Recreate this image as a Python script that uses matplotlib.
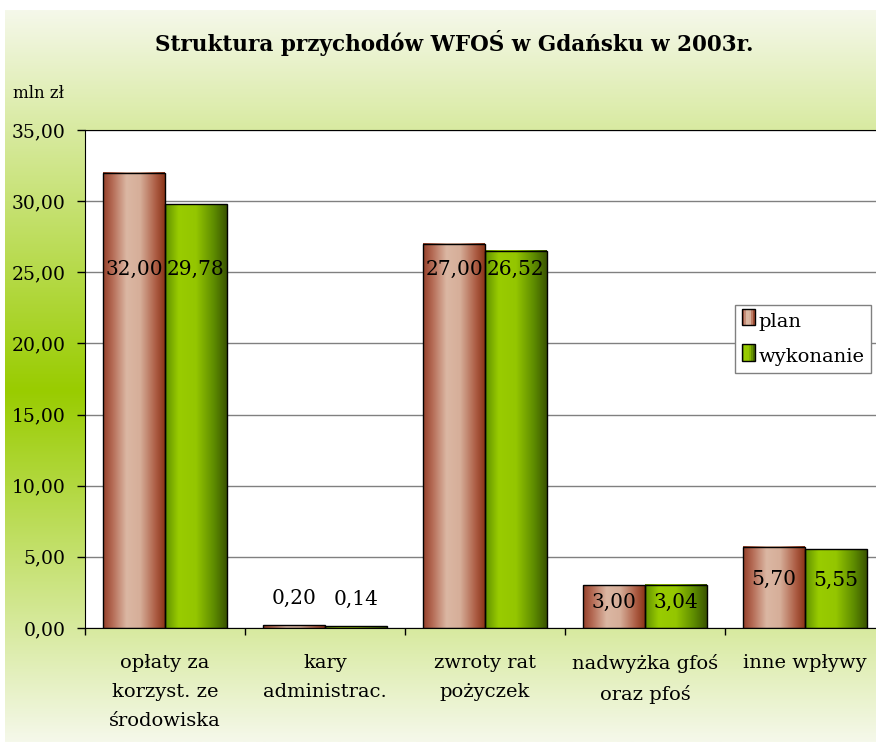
import matplotlib.pyplot as plt
import numpy as np
from matplotlib.colors import LinearSegmentedColormap, to_rgb
from matplotlib.patches import Rectangle
from matplotlib.legend_handler import HandlerBase

# dane
categories = ['opłaty za\nkorzyst. ze\nśrodowiska', 'kary\nadministrac.', 'zwroty rat\npożyczek',
              'nadwyżka gfoś\noraz pfoś', 'inne wpływy']
plan = [32.00, 0.20, 27.00, 3.00, 5.70]
wykonanie = [29.78, 0.14, 26.52, 3.04, 5.55]
series = ['plan', 'wykonanie']
yticks = [0, 5, 10, 15, 20, 25, 30, 35]

plt.rcParams['font.family'] = ['DejaVu Serif']

plan_cmap = LinearSegmentedColormap.from_list('plan', [(0, '#94402a'), (0.15, '#b46a54'), (0.38, '#dbb7a3'),
                                                        (0.6, '#d6ae99'), (0.85, '#ad5e45'), (1, '#8a3418')])
wyk_cmap = LinearSegmentedColormap.from_list('wyk', [(0, '#5f8f00'), (0.22, '#99cc00'), (0.5, '#94c600'),
                                                      (0.8, '#5c8a00'), (1, '#3a5400')])

W, H = 876, 745
fig = plt.figure(figsize=(W / 100, H / 100), dpi=100)

# tlo z gradientem
bg = fig.add_axes([0, 0, 1, 1], zorder=-1)
light = np.array(to_rgb('#f5f8ea'))
green = np.array(to_rgb('#99cc00'))
t = np.linspace(0, 1, 400)
mid = 0.52
w_ = np.where(t < mid, t / mid, (1 - t) / (1 - mid))
grad = light[None, :] * (1 - w_[:, None]) + green[None, :] * w_[:, None]
bg.imshow(grad[:, None, :], extent=[5, W, 742, 10], aspect='auto')
bg.set_xlim(0, W)
bg.set_ylim(H, 0)
bg.axis('off')

ax = fig.add_axes([85 / W, 1 - 628 / H, 800 / W, 498 / H])
ax.set_facecolor('white')

x = np.arange(len(categories))
bw = 0.385
for vals, cmap, off in [(plan, plan_cmap, -bw / 2), (wykonanie, wyk_cmap, bw / 2)]:
    bars = ax.bar(x + off, vals, bw, color='none', edgecolor='black', linewidth=1, zorder=3)
    for r in bars:
        ax.imshow(np.linspace(0, 1, 256)[None, :], cmap=cmap, aspect='auto', zorder=2,
                  extent=[r.get_x(), r.get_x() + r.get_width(), 0, r.get_height()])


def label_y(v):
    if v > 20:
        return 25.2
    if v < 1:
        return v + 1.9
    return v * 0.6


for vals, off in [(plan, -bw / 2), (wykonanie, bw / 2)]:
    for xi, v in zip(x, vals):
        ax.text(xi + off, label_y(v), f'{v:.2f}'.replace('.', ','), ha='center', va='center',
                fontsize=14.5, zorder=4)

ax.set_xlim(-0.5, len(categories) - 0.5)
ax.set_ylim(0, 35)
ax.set_yticks(yticks)
ax.set_yticklabels([f'{v:.2f}'.replace('.', ',') for v in yticks], fontsize=13.5)
ax.yaxis.grid(True, color='#808080', linewidth=1)
ax.set_axisbelow(True)
ax.tick_params(axis='y', direction='out', length=6, width=1, pad=8)

ax.set_xticks(x)
ax.set_xticklabels(categories, fontsize=14, linespacing=1.78, va='top')
ax.set_xticks(np.arange(-0.5, len(categories)), minor=True)
ax.tick_params(axis='x', which='major', length=0, pad=19)
ax.tick_params(axis='x', which='minor', length=5, width=1, direction='out')
ax.spines['right'].set_visible(False)
ax.spines['top'].set_color('black')


class GradHandler(HandlerBase):
    def __init__(self, cmap):
        super().__init__()
        self.cmap = cmap

    def create_artists(self, legend, orig, xd, yd, width, height, fontsize, trans):
        arts = []
        n = 6
        for i in range(n):
            arts.append(Rectangle((xd + width * i / n, yd), width / n, height,
                                  facecolor=self.cmap((i + 0.5) / n), edgecolor='none', transform=trans))
        arts.append(Rectangle((xd, yd), width, height, facecolor='none', edgecolor='black',
                              linewidth=1, transform=trans))
        return arts


h1 = Rectangle((0, 0), 1, 1)
h2 = Rectangle((0, 0), 1, 1)
leg = ax.legend([h1, h2], series, handler_map={h1: GradHandler(plan_cmap), h2: GradHandler(wyk_cmap)},
                loc='upper left', bbox_to_anchor=(735 / W, 1 - 305 / H), bbox_transform=fig.transFigure,
                fontsize=14, frameon=True, fancybox=False, framealpha=1, edgecolor='#808080',
                handlelength=0.7, handleheight=0.9, handletextpad=0.15, borderpad=0.35, labelspacing=0.85,
                borderaxespad=0)
leg.get_frame().set_linewidth(1)

fig.text(454 / W, 1 - 43 / H, 'Struktura przychodów WFOŚ w Gdańsku w 2003r.', ha='center', va='center',
         fontsize=15.5, fontweight='bold')
fig.text(13 / W, 1 - 93 / H, 'mln zł', ha='left', va='center', fontsize=12)

fig.savefig('out.png', dpi=100)
